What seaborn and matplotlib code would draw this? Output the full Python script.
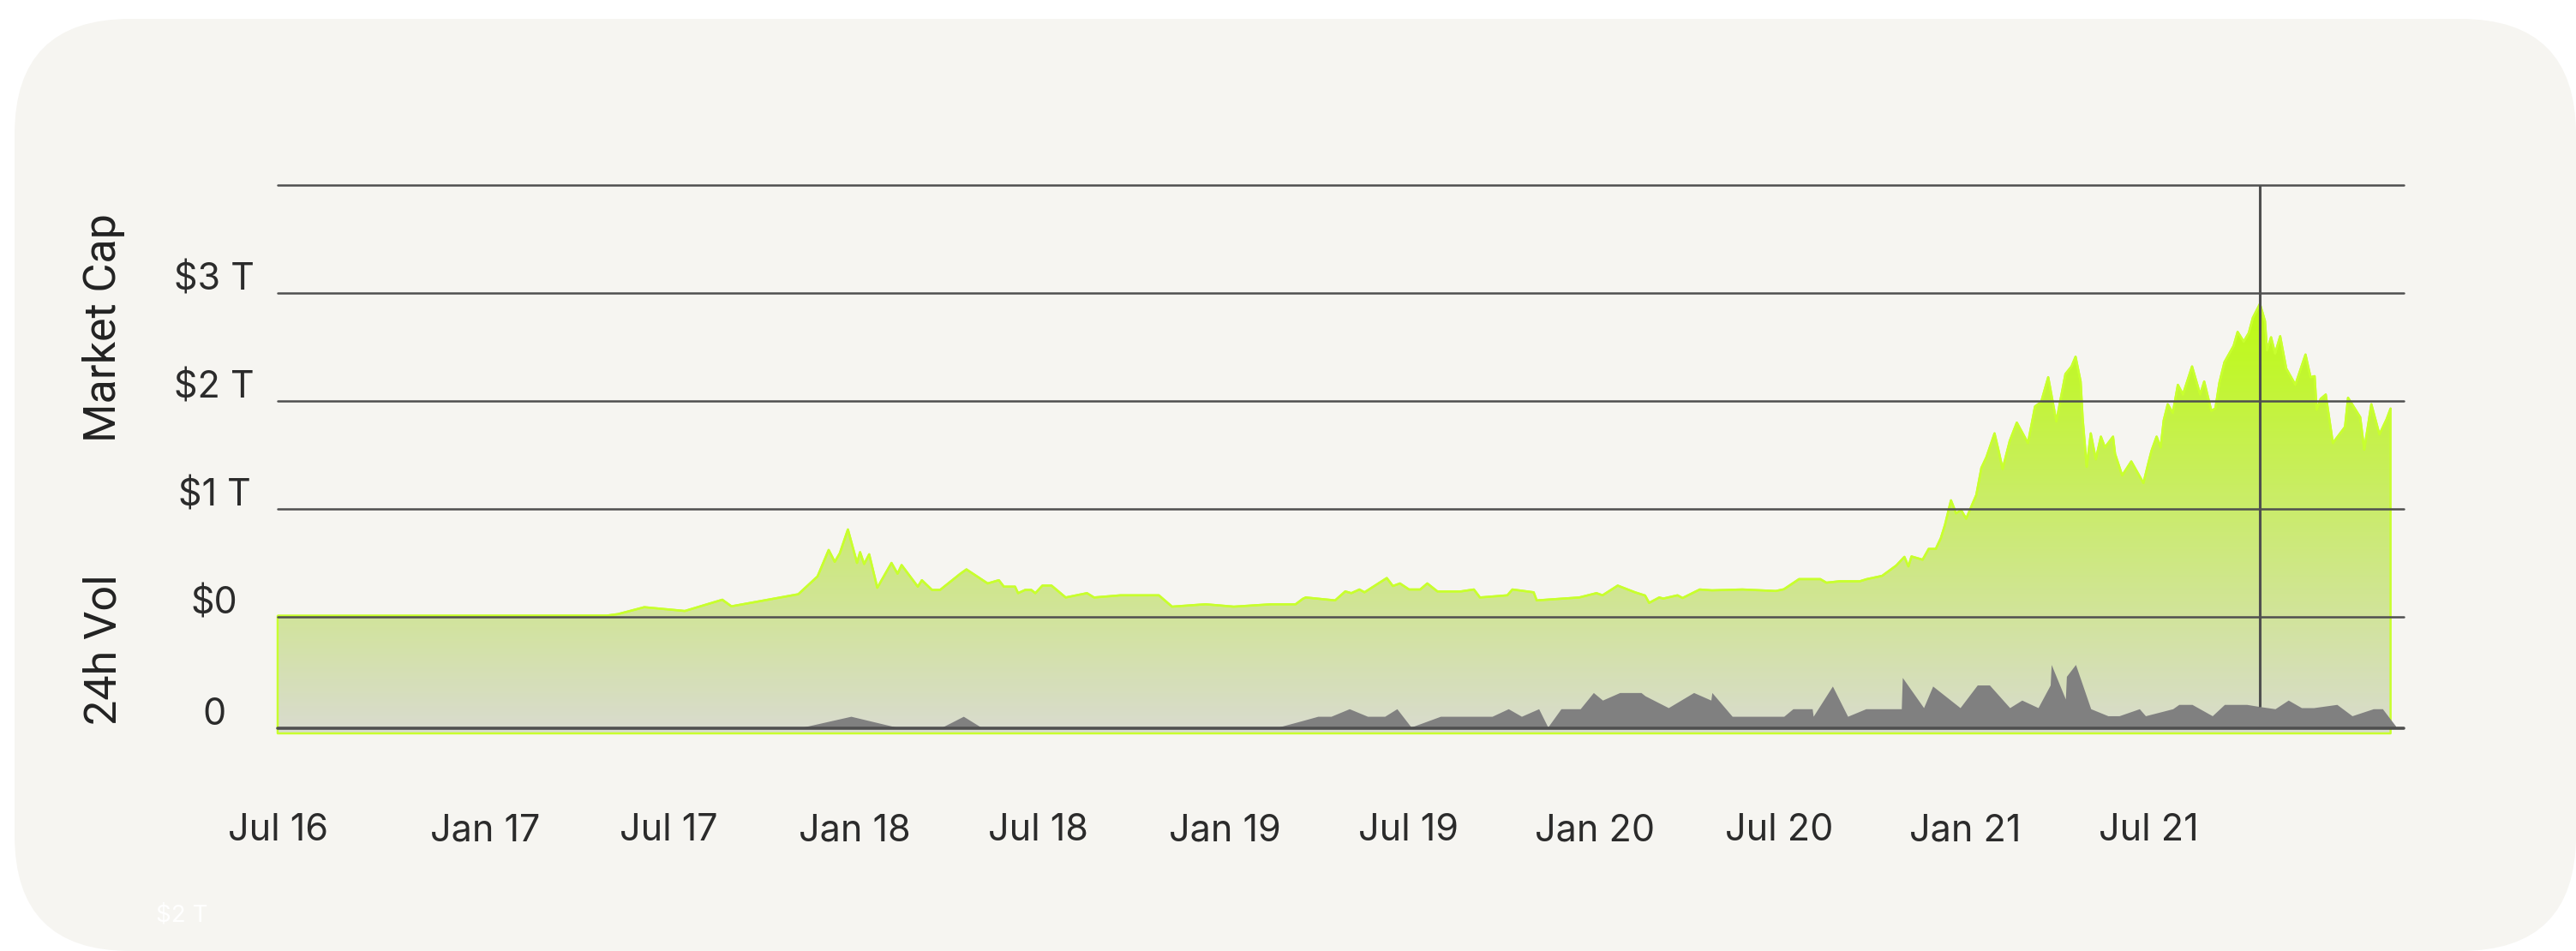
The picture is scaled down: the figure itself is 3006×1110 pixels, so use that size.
import numpy as np
import pandas as pd
import seaborn as sns
import matplotlib.pyplot as plt
import matplotlib.dates as mdates
from matplotlib.colors import LinearSegmentedColormap
from matplotlib.patches import FancyBboxPatch
from matplotlib.transforms import ScaledTranslation, IdentityTransform

# total market cap, $ trillions
cap_dates = [
    "2016-06-10", "2017-05-01", "2017-05-12", "2017-06-07", "2017-07-17", "2017-08-23", "2017-09-01",
    "2017-11-06", "2017-11-25", "2017-12-06", "2017-12-12", "2017-12-17", "2017-12-25",
    "2018-01-03", "2018-01-06", "2018-01-10", "2018-01-15", "2018-01-23", "2018-02-06", "2018-02-12",
    "2018-02-16", "2018-03-04", "2018-03-08", "2018-03-18", "2018-03-26", "2018-04-15", "2018-04-21",
    "2018-05-12", "2018-05-23", "2018-05-28", "2018-06-08", "2018-06-11", "2018-06-18", "2018-06-24",
    "2018-06-28", "2018-07-05", "2018-07-14", "2018-07-28", "2018-08-18", "2018-08-25", "2018-09-20",
    "2018-10-28", "2018-11-10", "2018-12-13",
    "2019-01-10", "2019-02-16", "2019-03-12", "2019-03-19", "2019-03-22", "2019-04-20", "2019-04-30",
    "2019-05-06", "2019-05-14", "2019-05-19", "2019-06-10", "2019-06-16", "2019-06-23", "2019-07-02",
    "2019-07-13", "2019-07-20", "2019-07-30", "2019-08-22", "2019-09-04", "2019-09-10", "2019-10-07",
    "2019-10-12", "2019-11-02", "2019-11-05", "2019-12-17",
    "2020-01-03", "2020-01-09", "2020-01-24", "2020-02-10", "2020-02-20", "2020-02-24", "2020-03-05",
    "2020-03-09", "2020-03-23", "2020-03-28", "2020-04-14", "2020-04-26", "2020-05-26", "2020-06-28",
    "2020-07-06", "2020-07-21", "2020-08-11", "2020-08-17", "2020-08-30", "2020-09-19", "2020-09-26",
    "2020-10-11", "2020-10-25", "2020-11-02", "2020-11-06", "2020-11-09", "2020-11-20", "2020-11-26",
    "2020-12-03", "2020-12-08", "2020-12-12", "2020-12-18", "2020-12-23", "2020-12-28",
    "2021-01-02", "2021-01-12", "2021-01-17", "2021-01-22", "2021-01-30", "2021-02-03", "2021-02-07",
    "2021-02-14", "2021-02-21", "2021-03-04", "2021-03-11", "2021-03-17", "2021-03-24", "2021-04-01",
    "2021-04-10", "2021-04-16", "2021-04-20", "2021-04-25", "2021-04-27", "2021-05-01", "2021-05-05",
    "2021-05-10", "2021-05-15", "2021-05-19", "2021-05-27", "2021-05-29", "2021-06-05", "2021-06-14",
    "2021-06-26", "2021-07-01", "2021-07-04", "2021-07-09", "2021-07-13", "2021-07-16", "2021-07-20",
    "2021-07-25", "2021-07-30", "2021-08-04", "2021-08-13", "2021-08-21", "2021-08-25", "2021-09-01",
    "2021-09-05", "2021-09-09", "2021-09-14", "2021-09-23", "2021-09-27", "2021-10-03", "2021-10-08",
    "2021-10-12", "2021-10-19", "2021-10-24", "2021-10-26", "2021-10-30", "2021-11-03", "2021-11-08",
    "2021-11-14", "2021-11-23", "2021-12-03", "2021-12-08", "2021-12-12", "2021-12-14", "2021-12-18",
    "2021-12-23", "2021-12-30",
    "2022-01-11", "2022-01-14", "2022-01-26", "2022-01-30", "2022-02-06", "2022-02-14", "2022-02-21",
    "2022-02-25",
]
cap_values = [
    0.01, 0.012, 0.026, 0.09, 0.055, 0.159, 0.098,
    0.21, 0.375, 0.62, 0.51, 0.59, 0.81,
    0.50, 0.60, 0.49, 0.58, 0.27, 0.50, 0.40,
    0.48, 0.28, 0.34, 0.25, 0.25, 0.40, 0.44,
    0.31, 0.34, 0.28, 0.28, 0.22, 0.25, 0.25,
    0.22, 0.29, 0.29, 0.18, 0.22, 0.18, 0.20,
    0.20, 0.095, 0.117,
    0.095, 0.117, 0.117, 0.167, 0.18, 0.153, 0.236,
    0.22, 0.254, 0.228, 0.36, 0.286, 0.31, 0.254,
    0.254, 0.31, 0.236, 0.236, 0.254, 0.18, 0.20,
    0.254, 0.228, 0.153, 0.18,
    0.22, 0.20, 0.29, 0.228, 0.198, 0.13, 0.18,
    0.17, 0.20, 0.175, 0.254, 0.246, 0.254, 0.24,
    0.256, 0.35, 0.35, 0.317, 0.33, 0.33, 0.35,
    0.38, 0.476, 0.556, 0.468, 0.56, 0.53, 0.63,
    0.63, 0.73, 0.85, 1.08, 0.96, 0.99,
    0.91, 1.13, 1.38, 1.48, 1.70, 1.54, 1.37,
    1.63, 1.80, 1.61, 1.95, 1.99, 2.22, 1.81,
    2.25, 2.32, 2.41, 2.18, 1.84, 1.39, 1.70,
    1.46, 1.67, 1.57, 1.67, 1.51, 1.31, 1.44,
    1.24, 1.43, 1.54, 1.67, 1.57, 1.82, 1.97,
    1.89, 2.15, 2.06, 2.32, 2.06, 2.18, 1.91,
    1.93, 2.17, 2.36, 2.51, 2.64, 2.55, 2.63,
    2.77, 2.90, 2.74, 2.47, 2.59, 2.44, 2.60,
    2.30, 2.15, 2.43, 2.22, 2.23, 1.92, 2.02,
    2.06, 1.61,
    1.76, 2.03, 1.85, 1.55, 1.97, 1.69, 1.83,
    1.93,
]

# 24h volume, same $ trillion scale
vol_dates = [
    "2017-11-06", "2017-12-28", "2018-02-15", "2018-03-26", "2018-04-18", "2018-05-07",
    "2019-02-19", "2019-03-19", "2019-04-03", "2019-04-16", "2019-05-04", "2019-05-22", "2019-06-08",
    "2019-06-20", "2019-07-04", "2019-08-02", "2019-09-22", "2019-10-08", "2019-10-21", "2019-11-07",
    "2019-11-16", "2019-11-29", "2019-12-18", "2019-12-31",
    "2020-01-09", "2020-01-26", "2020-02-16", "2020-02-20", "2020-03-14", "2020-04-08", "2020-04-25",
    "2020-04-26", "2020-05-16", "2020-07-06", "2020-07-15", "2020-08-03", "2020-08-04", "2020-08-23",
    "2020-09-07", "2020-09-25", "2020-10-30", "2020-10-31", "2020-11-21", "2020-11-30", "2020-12-27",
    "2021-01-13", "2021-01-25", "2021-02-14", "2021-02-26", "2021-03-14", "2021-03-26", "2021-03-27",
    "2021-04-10", "2021-04-11", "2021-04-20", "2021-05-05", "2021-05-22", "2021-06-02", "2021-06-22",
    "2021-06-28", "2021-07-25", "2021-07-31", "2021-08-13", "2021-09-02", "2021-09-14", "2021-10-06",
    "2021-10-19", "2021-11-03", "2021-11-16", "2021-11-29", "2021-12-11",
    "2022-01-03", "2022-01-18", "2022-02-08", "2022-02-17", "2022-03-02",
]
vol_values = [
    0.0, 0.11, 0.0, 0.0, 0.11, 0.0,
    0.0, 0.071, 0.11, 0.11, 0.18, 0.11, 0.11,
    0.18, 0.01, 0.11, 0.11, 0.18, 0.11, 0.18,
    0.01, 0.18, 0.18, 0.33,
    0.26, 0.33, 0.33, 0.30, 0.19, 0.33, 0.26,
    0.33, 0.11, 0.11, 0.18, 0.18, 0.11, 0.39,
    0.11, 0.18, 0.18, 0.47, 0.19, 0.39, 0.19,
    0.40, 0.40, 0.19, 0.26, 0.19, 0.40, 0.59,
    0.27, 0.48, 0.59, 0.18, 0.115, 0.115, 0.18,
    0.115, 0.18, 0.22, 0.22, 0.115, 0.22, 0.22,
    0.20, 0.18, 0.26, 0.19, 0.19,
    0.22, 0.115, 0.18, 0.18, 0.02,
]

tick_dates = ["2016-06-10", "2017-01-01", "2017-07-01", "2018-01-01", "2018-07-01", "2019-01-01",
              "2019-07-01", "2020-01-01", "2020-07-01", "2021-01-01", "2021-07-01"]
tick_labels = ["Jul 16", "Jan 17", "Jul 17", "Jan 18", "Jul 18", "Jan 19",
               "Jul 19", "Jan 20", "Jul 20", "Jan 21", "Jul 21"]
cap_ticks = [0, 1, 2, 3, 4]
cap_tick_labels = ["$0", "$1 T", "$2 T", "$3 T", ""]
vol_ticks = [0]
vol_tick_labels = ["0"]

LIME = "#C8FF2E"
GRID = "#4F4F4F"
TEXT = "#2B2B2B"

sns.set_theme(style="white")
plt.rcParams["font.family"] = ["Inter", "DejaVu Sans"]

cap_x = mdates.date2num(pd.to_datetime(cap_dates))
vol_x = mdates.date2num(pd.to_datetime(vol_dates))
x_lo = mdates.date2num(pd.Timestamp("2016-06-10"))
x_hi = mdates.date2num(pd.Timestamp("2022-03-10"))

fig = plt.figure(figsize=(30.06, 11.10), dpi=100, facecolor="white")
card = FancyBboxPatch((17, 0), 2989, 1088, boxstyle="round,pad=0,rounding_size=135",
                      transform=IdentityTransform(), facecolor="#F6F5F1", edgecolor="none", zorder=-10)
fig.add_artist(card)

ax = fig.add_axes([324 / 3006, 1 - 856 / 1110, 2481 / 3006, 640 / 1110])
ax.set_facecolor("none")
ax.set_xlim(x_lo, x_hi)
ax.set_ylim(-1.079, 4.0)
ybot = ax.get_ylim()[0]

# market cap area with vertical gradient
cmap = LinearSegmentedColormap.from_list(
    "cap", [(0, "#D9DBCF"), (0.793, "#BDFC0E"), (1, "#B8FF00")])
poly = ax.fill_between(cap_x, cap_values, ybot, facecolor="none", edgecolor=LIME,
                       lw=1.8, zorder=2, clip_on=False)
grad = np.linspace(0, 1, 512).reshape(-1, 1)
im = ax.imshow(grad, cmap=cmap, aspect="auto", origin="lower", zorder=1,
               extent=[x_lo, x_hi, ybot, ax.get_ylim()[1]])
im.set_clip_path(poly.get_paths()[0], transform=ax.transData)
sns.lineplot(x=cap_x, y=cap_values, ax=ax, color=LIME, lw=1.8, zorder=2)
ax.set_xlim(x_lo, x_hi)
ax.set_ylim(-1.079, 4.0)

ax.set_yticks(cap_ticks)
ax.set_yticklabels(cap_tick_labels)
ax.set_axisbelow(False)
ax.grid(axis="y", color=GRID, lw=1.8)
ax.grid(axis="x", visible=False)
for gl in ax.get_ygridlines():
    gl.set_clip_on(False)
ax.set_xticks(mdates.date2num(pd.to_datetime(tick_dates)))
ax.set_xticklabels(tick_labels)
ax.tick_params(axis="x", length=0, pad=82, labelsize=31, labelcolor=TEXT)
ax.tick_params(axis="y", length=0, pad=53.3, labelsize=31, labelcolor=TEXT)
for lab in ax.get_xticklabels():
    lab.set_verticalalignment("center")
for s in ax.spines.values():
    s.set_visible(False)

# volume on its own scale
ax2 = ax.twinx()
ax2.set_facecolor("none")
ax2.set_ylim(-0.048, 5.032)
ax2.fill_between(vol_x, vol_values, 0, color="#808080", lw=0, zorder=1)
ax2.axhline(0, color=GRID, lw=2.6, zorder=3, clip_on=False)
peak_x = cap_x[int(np.argmax(cap_values))]
peak_vol = np.interp(peak_x, vol_x, vol_values)
ax2.vlines(peak_x, peak_vol, ax2.get_ylim()[1], color=GRID, lw=2.2, zorder=4, clip_on=False)
ax2.yaxis.tick_left()
ax2.set_yticks(vol_ticks)
ax2.set_yticklabels(vol_tick_labels)
ax2.tick_params(axis="y", length=0, pad=53.3, labelsize=31, labelcolor=TEXT)
ax2.grid(False)
for s in ax2.spines.values():
    s.set_visible(False)
ax2.set_xlim(x_lo, x_hi)

lift = ScaledTranslation(0, 0.2, fig.dpi_scale_trans)
for a in (ax, ax2):
    for lab in a.get_yticklabels():
        lab.set_horizontalalignment("center")
        lab.set_transform(lab.get_transform() + lift)

ax.set_ylabel("Market Cap", fontsize=37.5, family="Roboto", color="#222222", va="center")
ax.yaxis.set_label_coords(-0.0818, 0.739)
ax2.yaxis.set_label_position("left")
ax2.set_ylabel("24h Vol", fontsize=37.5, family="Roboto", color="#222222", va="center")
ax2.yaxis.set_label_coords(-0.0818, 0.153)

fig.text(212 / 3006, 1 - 1068 / 1110, "$2 T", ha="center", va="center", fontsize=20, color="white")

plt.savefig("out.png", dpi=100, facecolor="white")
